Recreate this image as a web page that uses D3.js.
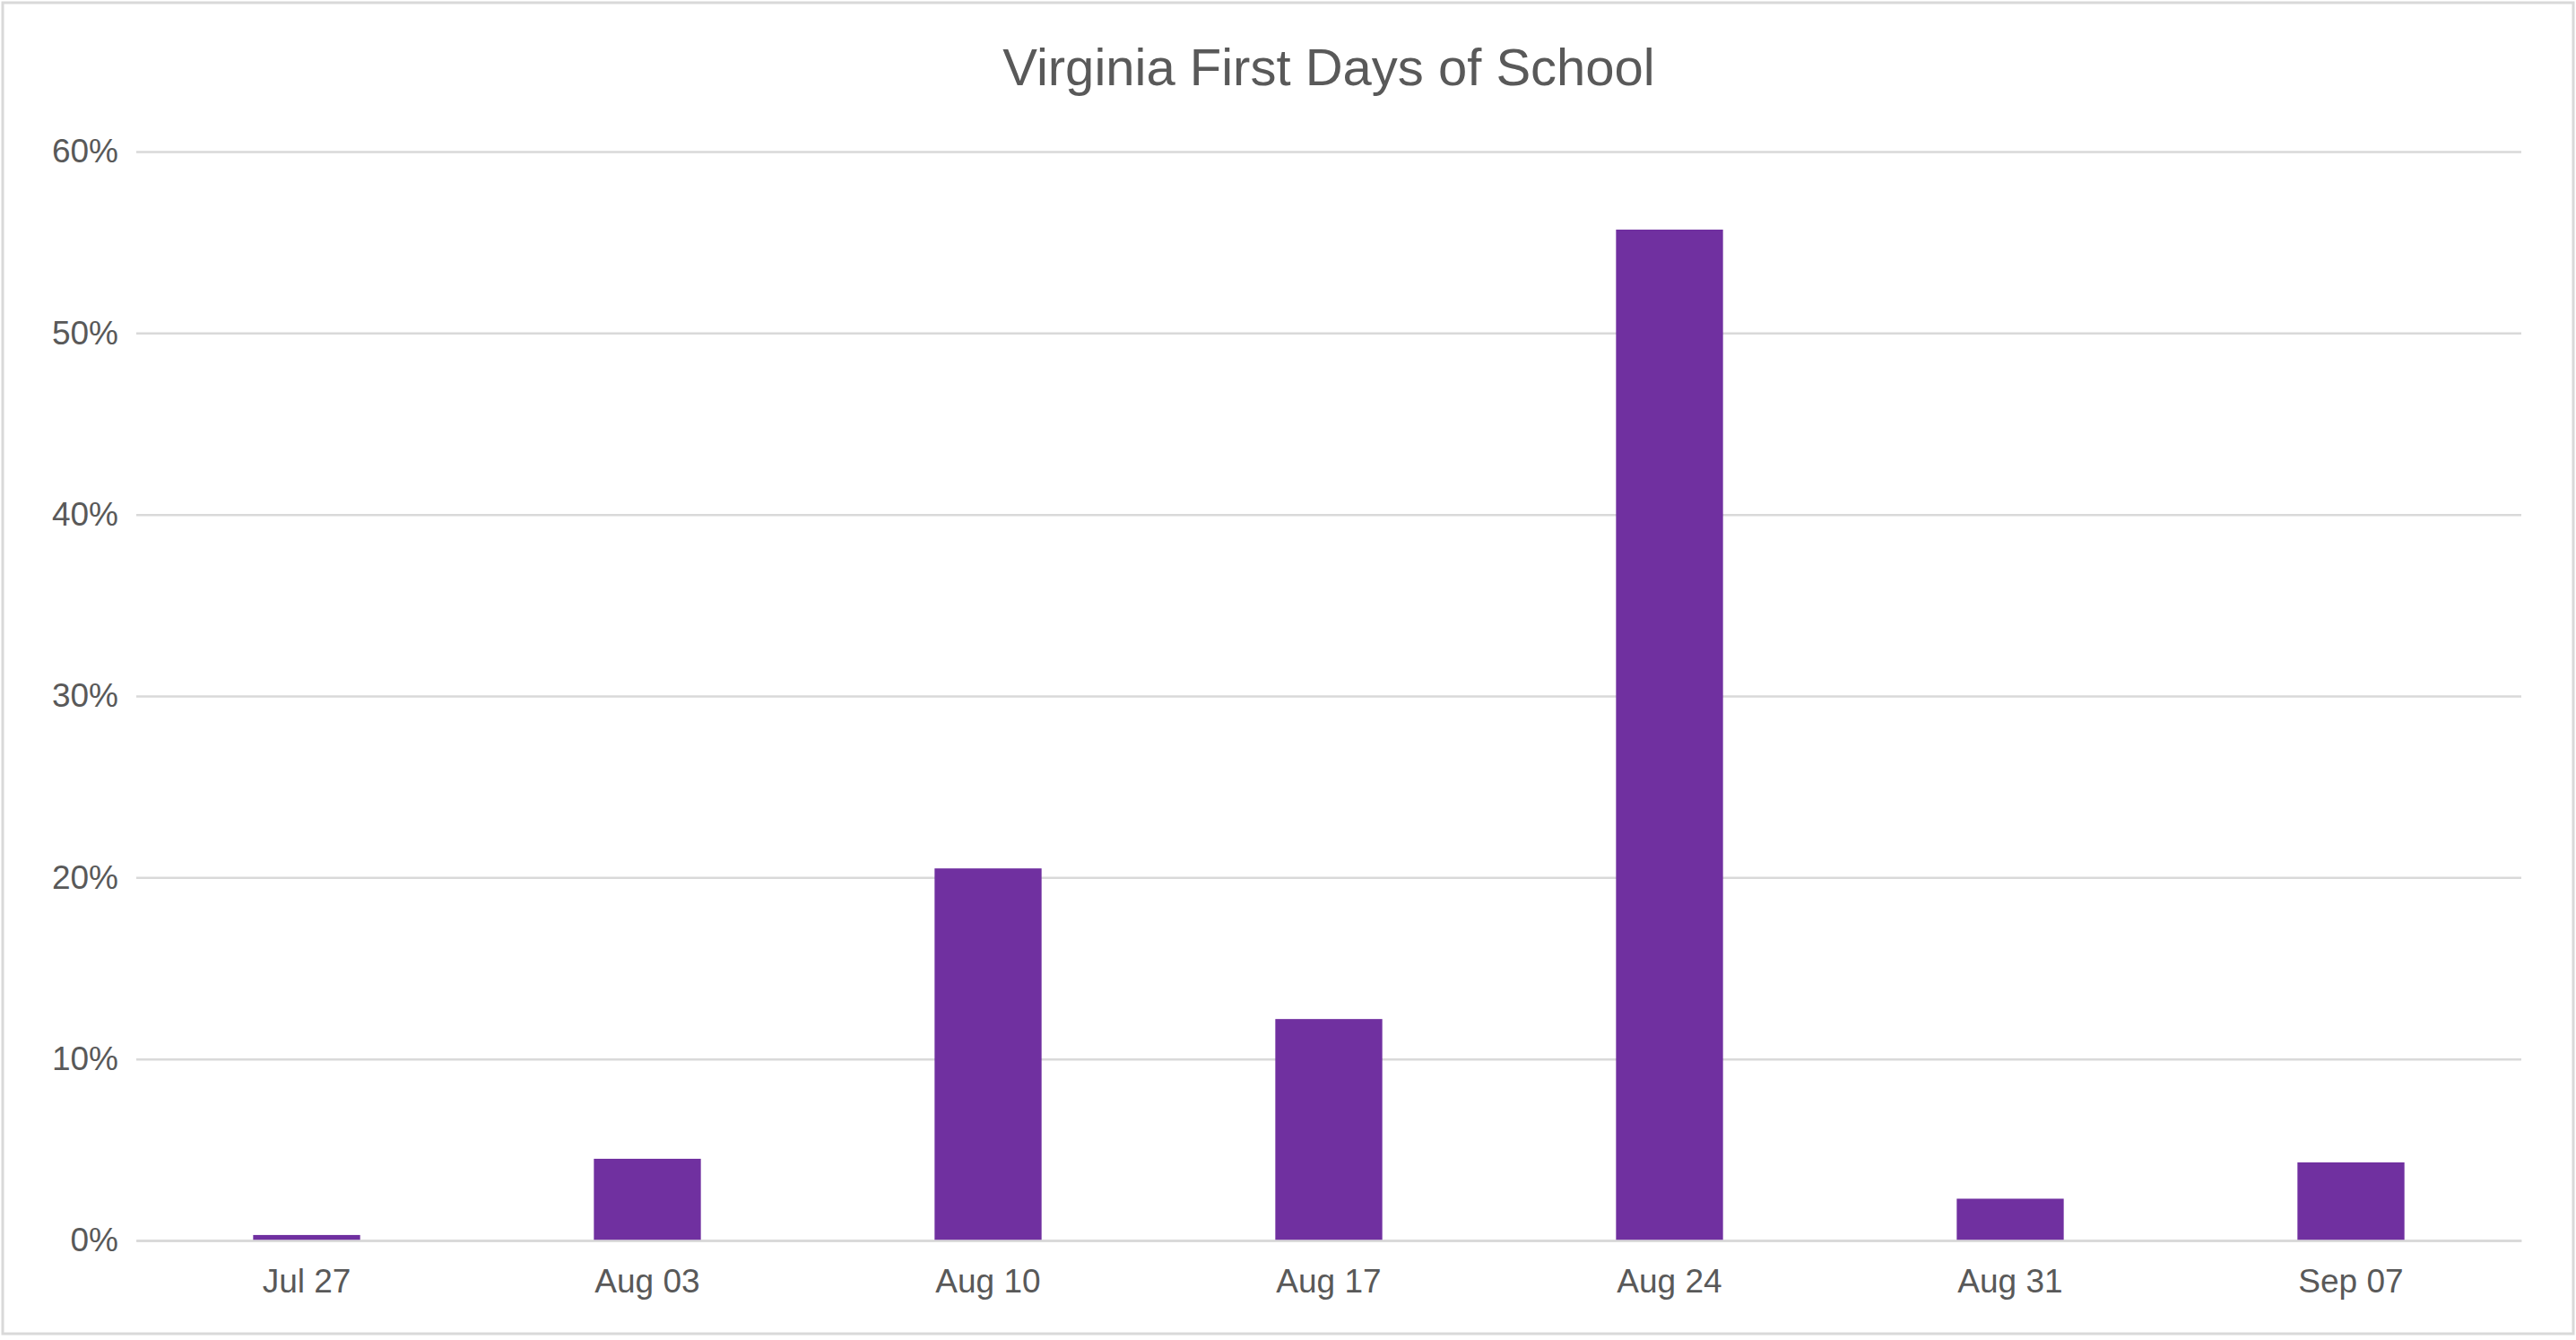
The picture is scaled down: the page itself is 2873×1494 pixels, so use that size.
<!DOCTYPE html>
<html><head><meta charset="utf-8">
<script src="https://cdn.jsdelivr.net/npm/d3@7"></script>
<style>body{margin:0;background:#fff}</style>
</head><body>
<script>
const categories = ["Jul 27","Aug 03","Aug 10","Aug 17","Aug 24","Aug 31","Sep 07"];
const values = [0.003,0.045,0.205,0.122,0.557,0.023,0.043];
const yTicks = [0,0.1,0.2,0.3,0.4,0.5,0.6];

const W = 2873, H = 1494;
const m = {left:152, right:61, top:169, bottom:111};

const svg = d3.select("body").append("svg").attr("width",W).attr("height",H);
svg.append("rect").attr("x",3).attr("y",3).attr("width",W-6).attr("height",H-10)
  .attr("fill","#fff").attr("stroke","#d9d9d9").attr("stroke-width",3);

const x = d3.scaleBand().domain(categories).range([m.left,W-m.right]).paddingInner(0.686).paddingOuter(0.343);
const y = d3.scaleLinear().domain([0,0.6]).range([H-m.bottom,m.top]);

svg.append("text").attr("x",(m.left+W-m.right)/2+0).attr("y",95).attr("text-anchor","middle")
  .attr("font-family","Liberation Sans, Arial").attr("font-size",58).attr("fill","#595959")
  .text("Virginia First Days of School");

const ya = svg.append("g").attr("transform",`translate(${m.left},0)`)
  .call(d3.axisLeft(y).tickValues(yTicks).tickFormat(d3.format(".0%")).tickSize(-(W-m.left-m.right)).tickPadding(20));
ya.select(".domain").remove();
ya.selectAll("line").attr("stroke","#d9d9d9").attr("stroke-width",2.5);
ya.selectAll("text").attr("font-family","Liberation Sans, Arial").attr("font-size",37).attr("fill","#595959");

svg.selectAll(".bar").data(values).enter().append("rect")
  .attr("x",(d,i)=>x(categories[i])).attr("width",x.bandwidth())
  .attr("y",d=>y(d)).attr("height",d=>y(0)-y(d)).attr("fill","#7030A0");

const xa = svg.append("g").attr("transform",`translate(0,${y(0)})`)
  .call(d3.axisBottom(x).tickSize(0).tickPadding(32));
xa.select(".domain").attr("stroke","#d9d9d9").attr("stroke-width",2.5);
xa.selectAll("text").attr("font-family","Liberation Sans, Arial").attr("font-size",37).attr("fill","#595959");
</script>
</body></html>
